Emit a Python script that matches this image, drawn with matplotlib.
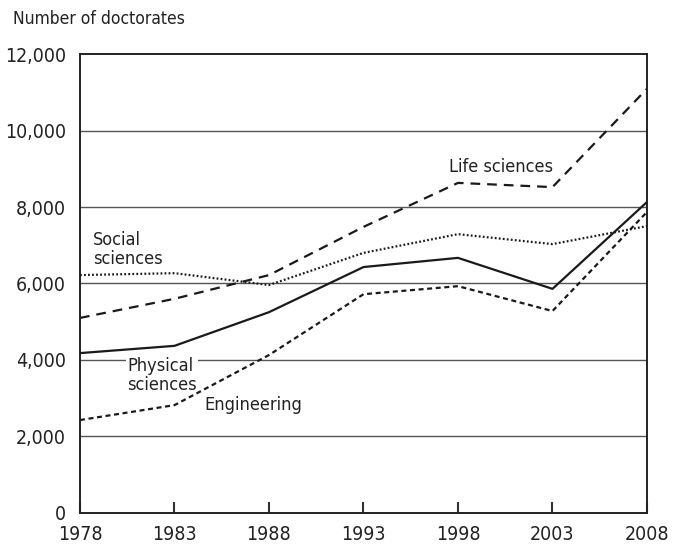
import matplotlib
matplotlib.use("Agg")
import matplotlib.pyplot as plt

plt.rcParams['font.family'] = ['DejaVu Sans']
plt.rcParams['font.stretch'] = 'condensed'
plt.rcParams['lines.scale_dashes'] = False

# data
years = [1978, 1983, 1988, 1993, 1998, 2003, 2008]
life = [5100, 5600, 6220, 7480, 8630, 8520, 11090]
social = [6220, 6270, 5960, 6800, 7290, 7030, 7500]
physical = [4180, 4370, 5250, 6430, 6670, 5860, 8130]
engineering = [2430, 2820, 4130, 5720, 5930, 5280, 7870]

fig = plt.figure(figsize=(6.75, 5.5), dpi=100)
ax = fig.add_axes([0.1185, 0.0673, 0.84, 0.8345])

# gridlines
for g in [2000, 4000, 6000, 8000, 10000]:
    ax.axhline(g, color="#555555", lw=1.0, zorder=1)

ax.plot(years, life, color="#1a1a1a", lw=1.6, dashes=(7, 5), zorder=3)
ax.plot(years, social, color="#1a1a1a", lw=1.6, dashes=(1.3, 1.6), zorder=3)
ax.plot(years, physical, color="#1a1a1a", lw=1.6, zorder=3)
ax.plot(years, engineering, color="#1a1a1a", lw=1.6, dashes=(3.6, 2.6), zorder=3)

ax.set_xlim(1978, 2008)
ax.set_ylim(0, 12000)
ax.set_xticks(years)
ax.set_yticks(range(0, 12001, 2000))
ax.set_yticklabels([f"{v:,}" for v in range(0, 12001, 2000)])
ax.tick_params(axis="y", length=0, pad=10, labelsize=14, labelcolor="#222222")
ax.tick_params(axis="x", direction="in", length=8, width=1.5, color="#333333",
               pad=9, labelsize=14, labelcolor="#222222")
for s in ax.spines.values():
    s.set_linewidth(1.4)
    s.set_color("#222222")

# labels on the lines
fs = 13
ax.text(1997.5, 9050, "Life sciences", fontsize=fs, color="#222222", va="center", ha="left")
ax.text(1978.7, 6880, "Social\nsciences", fontsize=fs, color="#222222", va="center",
        ha="left", linespacing=1.05)
ax.text(1980.5, 3600, "Physical\nsciences", fontsize=fs, color="#222222", va="center",
        ha="left", linespacing=1.05, zorder=2,
        bbox=dict(facecolor="white", edgecolor="none", pad=1))
ax.text(1984.6, 2820, "Engineering", fontsize=fs, color="#222222", va="center", ha="left")

fig.text(0.019, 0.965, "Number of doctorates", fontsize=12.5, color="#222222", va="center", ha="left")

fig.savefig("out.png", dpi=100)
